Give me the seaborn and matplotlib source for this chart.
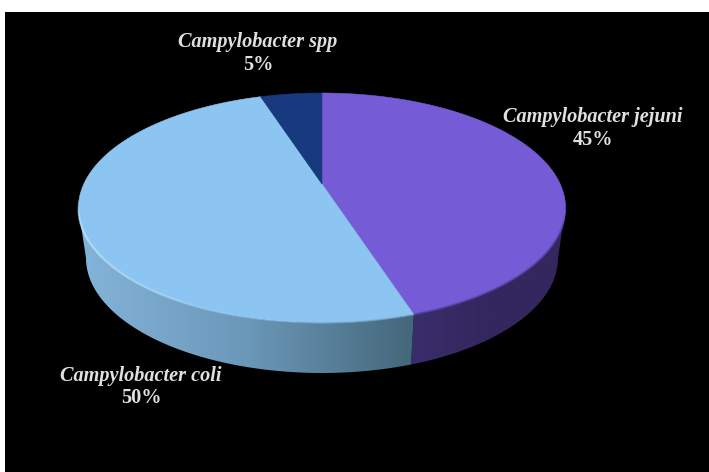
import numpy as np
import matplotlib
matplotlib.use("Agg")
import matplotlib.pyplot as plt
from matplotlib.collections import LineCollection
from matplotlib.colors import LinearSegmentedColormap, to_rgb
from matplotlib.patches import Polygon
import seaborn as sns

# --- data ---
species = ["Campylobacter jejuni", "Campylobacter coli", "Campylobacter spp"]
shares = [45, 50, 5]
face_colors = ["#755BD6", "#8CC4F2", "#173A7F"]

# --- styling ---
sns.set_theme(style="white")
plt.rcParams["font.family"] = ["Liberation Serif", "DejaVu Serif"]
palette = sns.color_palette(face_colors)

W, H = 709, 472
fig = plt.figure(figsize=(W / 100, H / 100), dpi=100, facecolor="white")
ax = fig.add_axes([5 / W, 0, (W - 5) / W, (H - 12) / H])
ax.set_facecolor("black")

# Tilted-disc projection: circle angle (clockwise from top) -> picture position
CX, CY, A, B, C, K = 322.0, 208.0, 238.2, 115.0, 24.0, 0.2087
DEPTH, SHRINK = 50.0, 0.969


def rim(t_deg, lower=False):
    t = np.radians(t_deg)
    u, v = np.sin(t), np.cos(t)
    w = 1 + K * v
    x, y = A * u / w, (B * v + C) / w
    if lower:
        return CX + SHRINK * x, CY - y + DEPTH
    return CX + x, CY - y


def apex():
    return CX, CY - C


edges = np.concatenate([[0], np.cumsum(shares)]) / np.sum(shares) * 360
T_RIGHT = np.degrees(np.arccos(-C / B))
T_LEFT = 360 - T_RIGHT

wall_ramps = {
    0: ("#33275E", "#33275E", "#3A2D6C"),
    1: ("#85B4DA", "#6B98B9", "#44677A"),
}

# Side wall of the disc
for i in (0, 1):
    t0, t1 = max(edges[i], T_RIGHT), min(edges[i + 1], T_LEFT)
    ts = np.linspace(t0, t1, 200)
    xt, yt = rim(ts)
    xb, yb = rim(ts[::-1], lower=True)
    poly = Polygon(np.column_stack([np.r_[xt, xb], np.r_[yt, yb]]),
                   closed=True, fc="none", ec="none", transform=ax.transData)
    ax.add_patch(poly)
    xmin, xmax = min(xt.min(), xb.min()), max(xt.max(), xb.max())
    stops = wall_ramps[i] if i == 1 else wall_ramps[i][::-1]
    cmap = LinearSegmentedColormap.from_list(f"wall{i}", [to_rgb(c) for c in stops])
    im = ax.imshow(np.linspace(0, 1, 256)[None, :], cmap=cmap, aspect="auto",
                   extent=(xmin, xmax, 380, 190), zorder=1, interpolation="bilinear")
    im.set_clip_path(poly)

# Top face
for i, colour in enumerate(palette):
    ts = np.linspace(edges[i], edges[i + 1], 240)
    xs, ys = rim(ts)
    ax0, ay0 = apex()
    ax.fill(np.r_[ax0, xs], np.r_[ay0, ys], color=colour, lw=0.4, zorder=2)


def soft_line(ts, colour, alphas, lw):
    xs, ys = rim(ts)
    pts = np.column_stack([xs, ys])
    segs = np.stack([pts[:-1], pts[1:]], axis=1)
    rgba = np.zeros((len(segs), 4))
    rgba[:, :3] = to_rgb(colour)
    rgba[:, 3] = alphas[:-1]
    ax.add_collection(LineCollection(segs, colors=rgba, linewidths=lw, zorder=3,
                                     capstyle="butt"))


# Bevel highlight along the near rim
ts = np.linspace(185, 262, 200)
soft_line(ts, "#BFEBFF", np.interp(ts, [185, 215, 250, 262], [0, 0.55, 0.9, 0]), 1.5)
ts = np.linspace(edges[1], 185, 40)
soft_line(ts, "#6E9BB8", np.full(40, 0.45), 1.2)
ts = np.linspace(T_RIGHT + 2, edges[1], 120)
soft_line(ts, "#4F3C99", np.interp(ts, [T_RIGHT + 2, T_RIGHT + 8, edges[1]], [0, 0.6, 0.6]), 1.5)

# Labels
label_pos = {0: (593, 117, 140), 1: (141, 376, 398), 2: (258, 42, 65)}
for i, name in enumerate(species):
    x, y1, y2 = label_pos[i]
    ax.text(x, y1, name, ha="center", va="center", color="#E0E0E0",
            fontsize=14.6, fontweight="bold", fontstyle="italic", zorder=5)
    ax.text(x, y2, f"{shares[i]}%", ha="center", va="center", color="#E0E0E0",
            fontsize=14.6, fontweight="bold", zorder=5)

ax.set_xlim(5, W)
ax.set_ylim(H, 12)
ax.set_xticks([])
ax.set_yticks([])
for s in ax.spines.values():
    s.set_visible(False)

fig.savefig("out.png", dpi=100, facecolor="white")
